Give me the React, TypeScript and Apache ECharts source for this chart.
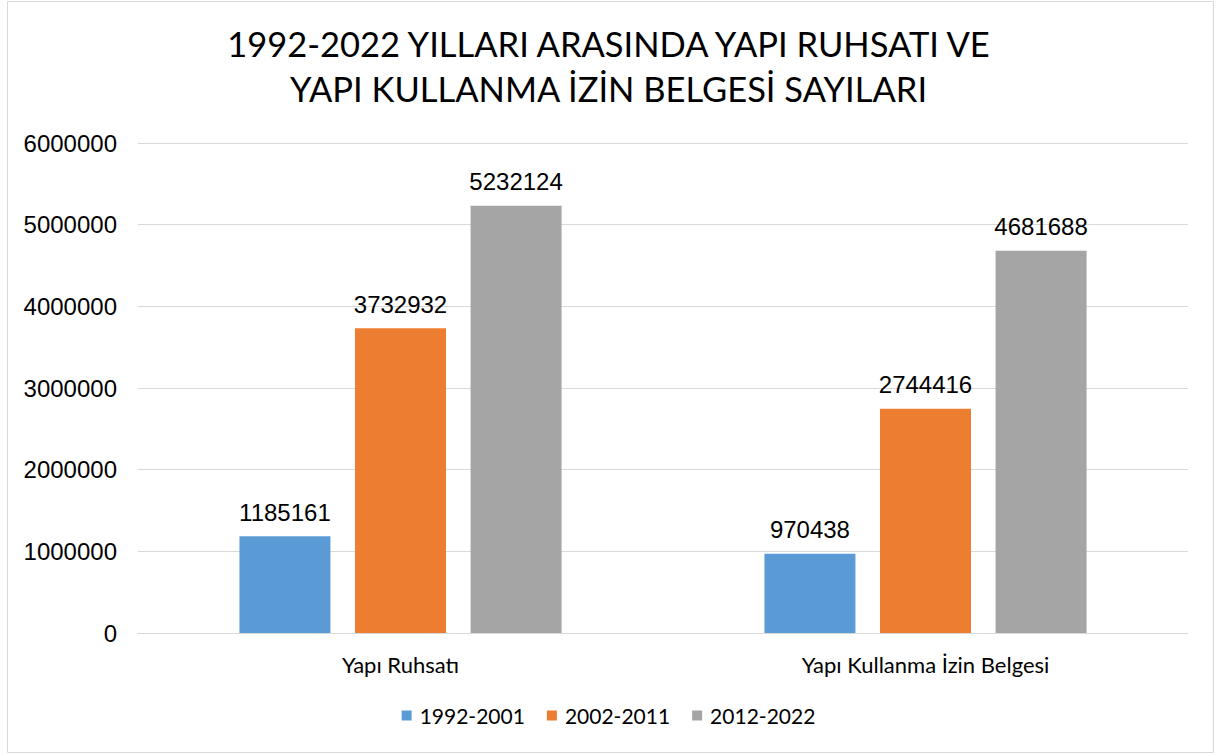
import React, { useEffect, useRef } from "react";
import * as echarts from "echarts";

const categories = ["Yapı Ruhsatı", "Yapı Kullanma İzin Belgesi"];
const seriesNames = ["1992-2001", "2002-2011", "2012-2022"];
const values1992 = [1185161, 970438];
const values2002 = [3732932, 2744416];
const values2012 = [5232124, 4681688];
const colors = ["#5B9BD5", "#ED7D31", "#A5A5A5"];

export default function App() {
  const ref = useRef<HTMLDivElement>(null);
  useEffect(() => {
    const chart = echarts.init(ref.current!, null, { renderer: "svg" });
    const data = [values1992, values2002, values2012];
    chart.setOption({
      animation: false,
      backgroundColor: "#fff",
      title: {
        text: "1992-2022 YILLARI ARASINDA YAPI RUHSATI VE\nYAPI KULLANMA İZİN BELGESİ SAYILARI",
        left: "center",
        top: 16,
        textStyle: { fontFamily: "Lato", fontSize: 34.5, fontWeight: "normal", color: "#000", lineHeight: 45 },
      },
      graphic: [
        {
          type: "rect",
          shape: { x: 7.5, y: 1.5, width: 1206, height: 751 },
          style: { fill: "none", stroke: "#d9d9d9", lineWidth: 1 },
          silent: true,
        },
      ],
      legend: {
        bottom: 24,
        left: "center",
        itemWidth: 10,
        itemHeight: 10,
        itemGap: 22,
        icon: "rect",
        textStyle: { fontFamily: "Lato", fontSize: 21, color: "#000", padding: [0, 0, 0, 3] },
        data: seriesNames,
      },
      grid: { left: 138, right: 29, top: 143, bottom: 122, containLabel: false },
      xAxis: {
        type: "category",
        data: categories,
        axisLine: { lineStyle: { color: "#d9d9d9" } },
        axisTick: { show: false },
        axisLabel: { fontFamily: "Lato", fontSize: 22, color: "#000", margin: 20 },
      },
      yAxis: {
        type: "value",
        min: 0,
        max: 6000000,
        interval: 1000000,
        axisLine: { show: false },
        axisTick: { show: false },
        splitLine: { lineStyle: { color: "#d9d9d9" } },
        axisLabel: {
          fontFamily: "Liberation Sans",
          fontSize: 24,
          color: "#000",
          margin: 21,
          formatter: (v: number) => String(v),
        },
      },
      series: seriesNames.map((name, i) => ({
        name,
        type: "bar",
        data: data[i],
        barWidth: 91,
        barGap: "27%",
        itemStyle: { color: colors[i] },
        label: {
          show: true,
          position: "top",
          distance: 12,
          fontFamily: "Liberation Sans",
          fontSize: 24,
          color: "#000",
        },
      })),
    });
    return () => chart.dispose();
  }, []);
  return <div ref={ref} style={{ position: "fixed", left: 0, top: 0, width: 1217, height: 755 }} />;
}
